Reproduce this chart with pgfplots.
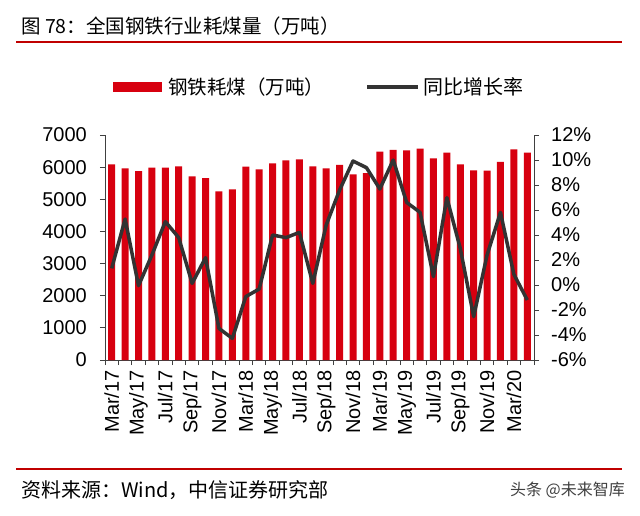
\documentclass[border=0pt]{standalone}
\usepackage{pgfplots}
\pgfplotsset{compat=1.18}
\usepackage{pgfplotstable}
\usepackage{fontspec}
\setmainfont{Liberation Sans}
\newfontfamily\cjk{Noto Sans CJK SC}
\definecolor{barred}{RGB}{215,0,15}
\definecolor{linegray}{RGB}{51,51,51}
\definecolor{rulered}{RGB}{192,0,0}
\definecolor{axgray}{RGB}{64,64,64}

\pgfplotstableread{
x coal yoy
0 6088 1.33
1 5963 5.28
2 5880 -0.05
3 5984 2.40
4 5984 5.07
5 6025 3.79
6 5714 0.13
7 5662 2.19
8 5248 -3.47
9 5310 -4.27
10 6015 -0.93
11 5932 -0.32
12 6119 4.00
13 6212 3.79
14 6243 4.21
15 6025 0.13
16 5963 4.80
17 6067 7.60
18 5776 9.92
19 5818 9.39
20 6482 7.68
21 6534 10.00
22 6524 6.61
23 6575 5.81
24 6274 0.67
25 6451 6.99
26 6088 2.93
27 5901 -2.53
28 5890 2.40
29 6161 5.81
30 6555 0.85
31 6451 -1.20
}\datatable

\begin{document}
\begin{tikzpicture}
\fill[white] (0pt,0pt) rectangle (640pt,-515pt);
\node[anchor=base west, inner sep=0pt, font=\cjk\fontsize{19.5}{22}\selectfont] at (21pt,-33pt) {图 78：全国钢铁行业耗煤量（万吨）};
\draw[rulered, line width=1.5pt] (16pt,-42pt) -- (622pt,-42pt);
% legend
\fill[barred] (113pt,-82pt) rectangle (162pt,-92pt);
\node[anchor=west, inner sep=0pt, font=\cjk\fontsize{19.5}{22}\selectfont] at (168pt,-87pt) {钢铁耗煤（万吨）};
\draw[linegray, line width=3.5pt] (367pt,-87pt) -- (418pt,-87pt);
\node[anchor=west, inner sep=0pt, font=\cjk\fontsize{20}{22}\selectfont] at (423pt,-87pt) {同比增长率};

\begin{axis}[
  at={(105pt,-360pt)}, anchor=south west, scale only axis,
  width=429pt, height=225pt,
  xmin=-0.5, xmax=31.5, ymin=0, ymax=7000,
  axis x line=bottom, axis y line=left,
  axis line style={-, draw=axgray, line width=1pt},
  tick align=outside, major tick length=5pt, minor tick length=5pt,
  every tick/.style={draw=axgray, line width=0.8pt},
  xtick={0,2,...,30},
  xticklabels={Mar/17,May/17,Jul/17,Sep/17,Nov/17,Mar/18,May/18,Jul/18,Sep/18,Nov/18,Mar/19,May/19,Jul/19,Sep/19,Nov/19,Mar/20},
  major x tick style={draw=none},
  minor xtick={-0.5,0.5,...,31.5},
  xticklabel style={yshift=-5pt, rotate=90, anchor=east, inner sep=0pt, font=\fontsize{20}{24}\selectfont},
  ytick={0,1000,...,7000},
  yticklabels={0,1000,2000,3000,4000,5000,6000,7000},
  yticklabel style={xshift=-13pt, anchor=east, inner sep=0pt, font=\fontsize{20}{24}\selectfont},
]
\addplot[ybar, bar width=7pt, fill=barred, draw=none] table[x=x, y=coal] {\datatable};
\end{axis}

\begin{axis}[
  at={(105pt,-360pt)}, anchor=south west, scale only axis,
  width=429pt, height=225pt,
  xmin=-0.5, xmax=31.5, ymin=-6, ymax=12,
  hide x axis, axis y line=right,
  axis line style={-, draw=axgray, line width=1pt},
  tick align=outside, major tick length=5pt,
  every tick/.style={draw=axgray, line width=0.8pt},
  ytick={-6,-4,...,12},
  yticklabels={-6\%,-4\%,-2\%,0\%,2\%,4\%,6\%,8\%,10\%,12\%},
  yticklabel style={xshift=12pt, anchor=west, inner sep=0pt, font=\fontsize{20}{24}\selectfont},
]
\addplot[linegray, line width=3.5pt, line join=round, mark=none] table[x=x, y=yoy] {\datatable};
\end{axis}

\draw[rulered, line width=1.5pt] (16pt,-469pt) -- (622pt,-469pt);
\node[anchor=west, inner sep=0pt, font=\cjk\fontsize{20}{22}\selectfont] at (21pt,-490pt) {资料来源：Wind，中信证券研究部};
\node[anchor=east, inner sep=0pt, text=black!75, font=\cjk\fontsize{16}{18}\selectfont] at (625pt,-490pt) {头条 @未来智库};
\end{tikzpicture}
\end{document}
